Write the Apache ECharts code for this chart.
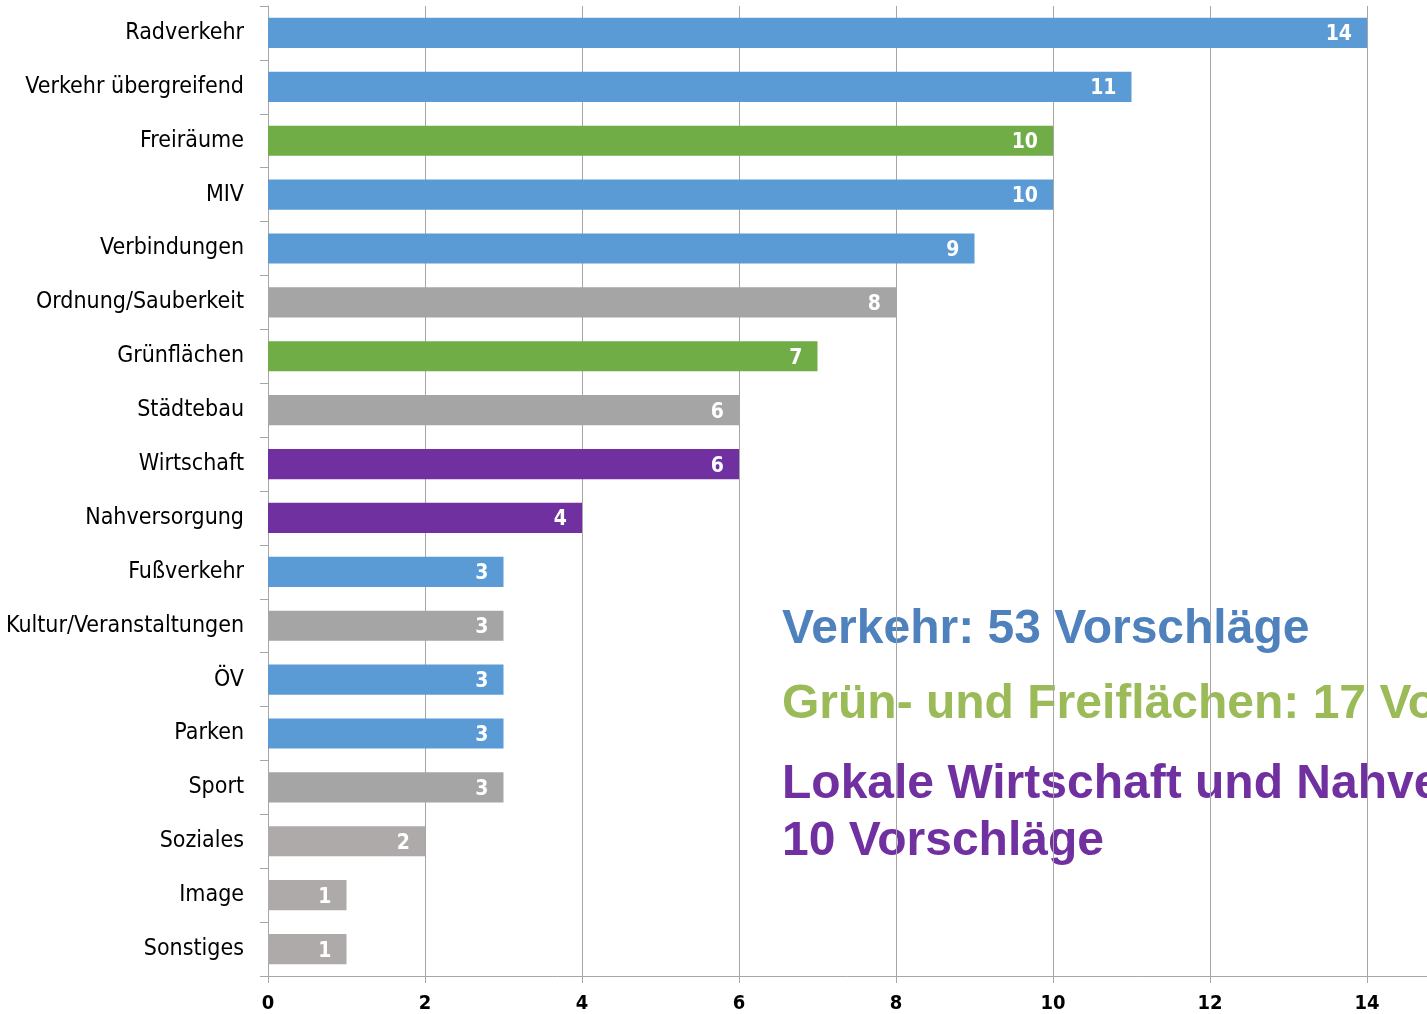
<!DOCTYPE html>
<html>
<head>
<meta charset="utf-8">
<script src="https://cdn.jsdelivr.net/npm/echarts@6/dist/echarts.min.js"></script>
<style>
  html, body { margin: 0; padding: 0; background: #fff; }
  #chart { width: 1427px; height: 1014px; }
</style>
</head>
<body>
<div id="chart"></div>
<script>
// Vorschläge nach Thema
const categories = ['Radverkehr', 'Verkehr übergreifend', 'Freiräume', 'MIV', 'Verbindungen',
  'Ordnung/Sauberkeit', 'Grünflächen', 'Städtebau', 'Wirtschaft', 'Nahversorgung', 'Fußverkehr',
  'Kultur/Veranstaltungen', 'ÖV', 'Parken', 'Sport', 'Soziales', 'Image', 'Sonstiges']
const values = [14, 11, 10, 10, 9, 8, 7, 6, 6, 4, 3, 3, 3, 3, 3, 2, 1, 1]
const groups = ['verkehr', 'verkehr', 'gruen', 'verkehr', 'verkehr', 'sonst', 'gruen', 'sonst',
  'wirtschaft', 'wirtschaft', 'verkehr', 'sonst', 'verkehr', 'verkehr', 'sonst', 'sonst2', 'sonst2', 'sonst2']
const xTicks = [0, 2, 4, 6, 8, 10, 12, 14]
const summaryLines = ['Verkehr: 53 Vorschläge', 'Grün- und Freiflächen: 17 Vorschläge',
  'Lokale Wirtschaft und Nahversorgung:', '10 Vorschläge']

const barColors = {
  verkehr: '#5B9BD5',
  gruen: '#70AD47',
  wirtschaft: '#7030A0',
  sonst: '#A5A5A5',
  sonst2: '#AEAAAA'
}
const narrow = '"Liberation Sans Narrow", "Arial Narrow", "DejaVu Sans Condensed", sans-serif'
const bold = '"Liberation Sans", Arial, sans-serif'

const chart = echarts.init(document.getElementById('chart'))

const barData = values.map((v, i) => ({
  value: v,
  itemStyle: { color: barColors[groups[i]] }
}))

chart.setOption({
  animation: false,
  grid: {
    left: 268,
    top: 6,
    bottom: 38,
    width: 1256, // axis runs to 16, cut off at the page edge
    outerBoundsMode: 'none'
  },
  xAxis: {
    type: 'value',
    min: 0,
    max: 16,
    interval: 2,
    axisLine: { show: true, lineStyle: { color: '#A6A6A6', width: 1 } },
    axisTick: { show: true, length: 7, lineStyle: { color: '#A6A6A6' } },
    axisLabel: {
      color: '#000',
      fontFamily: narrow,
      fontWeight: 'bold',
      fontSize: 20,
      margin: 18,
      formatter: v => (xTicks.indexOf(v) >= 0 ? v : '')
    },
    splitLine: { show: true, lineStyle: { color: '#A6A6A6', width: 1 } }
  },
  yAxis: {
    type: 'category',
    inverse: true,
    data: categories,
    axisLine: { show: true, lineStyle: { color: '#A6A6A6', width: 1 } },
    axisTick: { show: true, length: 8, lineStyle: { color: '#A6A6A6' } },
    axisLabel: {
      color: '#000',
      fontFamily: narrow,
      fontSize: 23,
      margin: 24
    }
  },
  series: [{
    type: 'bar',
    data: barData,
    barCategoryGap: '44%',
    label: {
      show: true,
      position: 'insideRight',
      offset: [-10, 2],
      color: '#fff',
      fontFamily: narrow,
      fontWeight: 'bold',
      fontSize: 21
    }
  }],
  graphic: [
    { type: 'text', left: 782, top: 606, z: -1,
      style: { text: summaryLines[0], fill: '#4F81BD', font: 'bold 48px ' + bold } },
    { type: 'text', left: 782, top: 681, z: -1,
      style: { text: summaryLines[1], fill: '#9BBB59', font: 'bold 48px ' + bold } },
    { type: 'text', left: 782, top: 761, z: -1,
      style: { text: summaryLines[2], fill: '#7030A0', font: 'bold 48px ' + bold } },
    { type: 'text', left: 782, top: 818, z: -1,
      style: { text: summaryLines[3], fill: '#7030A0', font: 'bold 48px ' + bold } }
  ]
})
</script>
</body>
</html>
